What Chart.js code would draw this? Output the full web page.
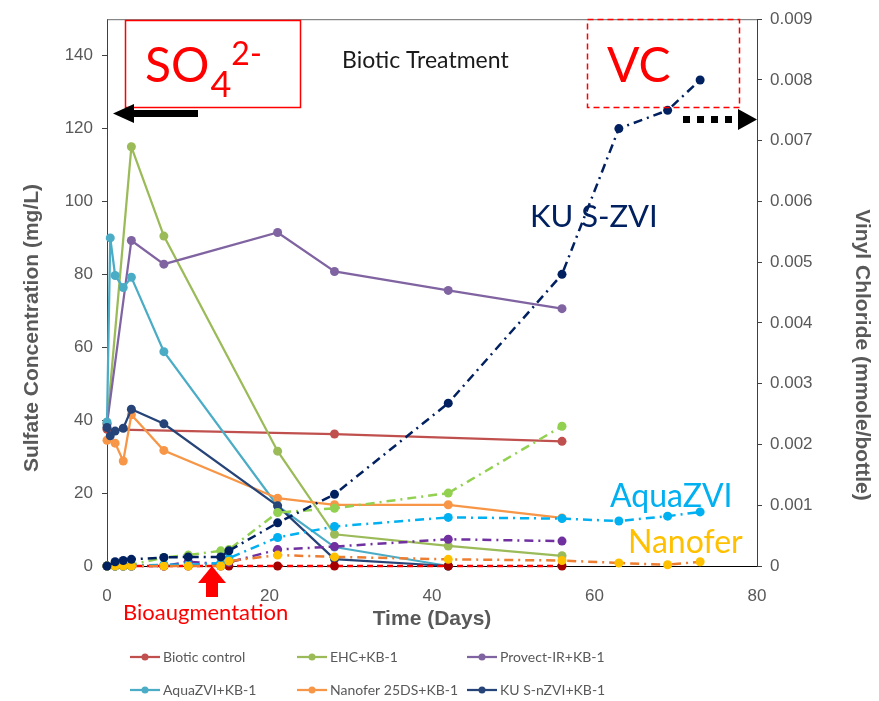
<!DOCTYPE html>
<html>
<head>
<meta charset="utf-8">
<script src="https://cdn.jsdelivr.net/npm/chart.js@4.4.1/dist/chart.umd.min.js"></script>
<style>
  html, body { margin: 0; padding: 0; background: #fff; }
</style>
</head>
<body>
<canvas id="sulfateChart" width="879" height="701"></canvas>
<script>
// Sulfate sampling days (left axis, mg/L)
const sulfateDays = [0, 0.4, 1, 2, 3, 7, 21, 28, 42, 56];
const bioticSO4   = [37.5, null, null, null, null, null, null, 36.2, null, 34.2];
const ehcSO4      = [39, null, null, null, 115, 90.5, 31.5, 8.7, 5.5, 2.8];
const provectSO4  = [39, null, null, null, 89.3, 82.8, 91.5, 80.8, 75.6, 70.6];
const aquaSO4     = [39.5, 90, 79.7, 76.4, 79.2, 58.8, 16.5, 5.2, 0, null];
const nanoferSO4  = [34.5, null, 33.7, 28.8, 41.5, 31.7, 18.6, 16.8, 16.8, 13.2];
const kuSO4       = [38, 35.7, 37, 37.8, 43, 39, 16.5, 1.9, 0, null];

// Vinyl chloride sampling days (right axis, mmole/bottle)
const vcDays     = [0, 1, 2, 3, 7, 10, 14, 15, 21, 28, 42, 56, 63, 69, 73];
const bioticVC   = [0, 0, 0, 0, 0, 0, 0, 0, 0, 0, 0, 0, null, null, null];
const ehcVC      = [0, 0, 0, 0.00002, 0.00014, 0.00018, 0.00025, 0.00027, 0.00088, 0.00095, 0.0012, 0.0023, null, null, null];
const provectVC  = [0, 0, 0, 0, 0, 0.00007, 0.00003, 0.00006, 0.00027, 0.00032, 0.00044, 0.00041, null, null, null];
const aquaVC     = [0, 0, 0, 0, 0.00002, 0.00002, 0.00005, 0.00013, 0.00047, 0.00065, 0.0008, 0.00078, 0.00074, 0.00082, 0.00089];
const nanoferVC  = [0, 0, 0, 0, 0, 0, 0, 0.00008, 0.00018, 0.00015, 0.00011, 0.00009, 0.00005, 0.00002, 0.00007];
const kuVC       = [0, 0.00007, 0.00009, 0.00011, 0.00014, 0.00015, 0.00015, 0.00025, 0.00071, 0.00118, 0.00268, 0.0048, 0.0072, 0.0075, 0.008];

// tick labels
const xTicks = [0, 20, 40, 60, 80];
const so4Ticks = [0, 20, 40, 60, 80, 100, 120, 140];
const vcTicks = [0, 0.001, 0.002, 0.003, 0.004, 0.005, 0.006, 0.007, 0.008, 0.009];

const gray = '#595959';
const pairUp = (days, vals) => days.map((d, i) => ({ x: d, y: vals[i] })).filter(p => p.y !== null);

// later series sit on top (like the spreadsheet); lower order = drawn on top
let so4Order = 30, vcOrder = 10;

function so4Set(label, vals, color) {
  return {
    label: label, data: pairUp(sulfateDays, vals), yAxisID: 'y',
    borderColor: color, backgroundColor: color, borderWidth: 2.25,
    pointRadius: 4.5, pointHoverRadius: 4.5, pointBorderWidth: 0,
    clip: false, order: so4Order--
  };
}
function vcSet(label, vals, lineColor, dotColor, dash) {
  return {
    label: label, data: pairUp(vcDays, vals), yAxisID: 'y1',
    borderColor: lineColor, backgroundColor: dotColor,
    pointBackgroundColor: dotColor, pointBorderColor: dotColor,
    borderWidth: 2.5, borderDash: dash,
    pointRadius: 4.5, pointHoverRadius: 4.5, pointBorderWidth: 0,
    clip: false, order: vcOrder--
  };
}

const dashDot = [9, 5, 2, 5];

// legend drawn in a 3 x 2 grid like the original
const legendGrid = {
  id: 'legendGrid',
  afterDraw(chart) {
    const ctx = chart.ctx;
    const cols = [130, 297, 467], rows = [657, 690];
    ctx.save();
    ctx.font = '14px Lato';
    ctx.textBaseline = 'middle';
    chart.data.datasets.slice(0, 6).forEach((ds, i) => {
      const x = cols[i % 3], y = rows[Math.floor(i / 3)];
      ctx.strokeStyle = ds.borderColor;
      ctx.lineWidth = 2.25;
      ctx.beginPath(); ctx.moveTo(x, y); ctx.lineTo(x + 30, y); ctx.stroke();
      ctx.fillStyle = ds.borderColor;
      ctx.beginPath(); ctx.arc(x + 15, y, 3.5, 0, Math.PI * 2); ctx.fill();
      ctx.fillStyle = gray;
      ctx.fillText(ds.label, x + 33, y);
    });
    ctx.restore();
  }
};

// frame, axis titles and the text boxes / arrows of the figure
const decorations = {
  id: 'decorations',
  afterDraw(chart) {
    const ctx = chart.ctx;
    const a = chart.chartArea;
    ctx.save();

    // top frame line
    ctx.strokeStyle = '#6b6b6b'; ctx.lineWidth = 1;
    ctx.beginPath(); ctx.moveTo(a.left, a.top + 0.5); ctx.lineTo(a.right, a.top + 0.5); ctx.stroke();

    // y axis titles
    ctx.fillStyle = gray;
    ctx.font = 'bold 21px "Liberation Sans"';
    ctx.textAlign = 'center'; ctx.textBaseline = 'middle';
    ctx.save(); ctx.translate(32, 328); ctx.rotate(-Math.PI / 2);
    ctx.fillText('Sulfate Concentration (mg/L)', 0, 0); ctx.restore();
    ctx.save(); ctx.translate(862, 355); ctx.rotate(Math.PI / 2);
    ctx.fillText('Vinyl Chloride (mmole/bottle)', 0, 0); ctx.restore();

    ctx.textAlign = 'left'; ctx.textBaseline = 'alphabetic';

    // SO4 2- box
    ctx.strokeStyle = '#ff0000'; ctx.lineWidth = 1.5;
    ctx.strokeRect(125.5, 20.5, 175, 87);
    ctx.fillStyle = '#ff0000';
    ctx.font = '48px Lato';
    ctx.fillText('SO', 145, 82);
    const w = ctx.measureText('SO').width;
    ctx.font = '36px Lato';
    ctx.fillText('4', 145 + w + 1, 97);
    const w4 = ctx.measureText('4').width;
    ctx.font = '32px Lato';
    ctx.fillText('2-', 145 + w + w4 + 1, 65);

    // VC box
    ctx.setLineDash([6, 4]);
    ctx.strokeRect(587.5, 19.5, 152, 88);
    ctx.setLineDash([]);
    ctx.font = '48px Lato';
    ctx.fillText('VC', 607, 82);

    // Biotic Treatment
    ctx.fillStyle = '#1a1a1a';
    ctx.font = '23px Lato';
    ctx.fillText('Biotic Treatment', 342, 68);

    // black arrow to the left axis
    ctx.fillStyle = '#000';
    ctx.fillRect(132, 110, 66, 7);
    ctx.beginPath(); ctx.moveTo(113, 113.5); ctx.lineTo(134, 104); ctx.lineTo(134, 123); ctx.closePath(); ctx.fill();

    // dotted arrow to the right axis
    [683, 697, 711, 725].forEach(x => ctx.fillRect(x, 116, 7, 7));
    ctx.beginPath(); ctx.moveTo(757, 119.5); ctx.lineTo(738, 109); ctx.lineTo(738, 130); ctx.closePath(); ctx.fill();

    // series labels
    ctx.font = '31px Lato';
    ctx.fillStyle = '#002060'; ctx.fillText('KU S-ZVI', 530, 227);
    ctx.font = '32px Lato';
    ctx.fillStyle = '#00B0F0'; ctx.fillText('AquaZVI', 610, 507);
    ctx.fillStyle = '#FFC000'; ctx.fillText('Nanofer', 628, 553);

    // bioaugmentation marker
    ctx.fillStyle = '#ff0000';
    ctx.beginPath(); ctx.moveTo(212, 566); ctx.lineTo(198, 583); ctx.lineTo(226, 583); ctx.closePath(); ctx.fill();
    ctx.fillRect(206, 582, 12, 15);
    ctx.font = '22px Lato';
    ctx.fillText('Bioaugmentation', 123, 620);

    ctx.restore();
  }
};

new Chart(document.getElementById('sulfateChart'), {
  type: 'line',
  data: {
    datasets: [
      so4Set('Biotic control', bioticSO4, '#C0504D'),
      so4Set('EHC+KB-1', ehcSO4, '#9BBB59'),
      so4Set('Provect-IR+KB-1', provectSO4, '#8064A2'),
      so4Set('AquaZVI+KB-1', aquaSO4, '#4BACC6'),
      so4Set('Nanofer 25DS+KB-1', nanoferSO4, '#F79646'),
      so4Set('KU S-nZVI+KB-1', kuSO4, '#264478'),
      vcSet('Biotic control VC', bioticVC, '#FF0000', '#A50000', [6, 4]),
      vcSet('EHC+KB-1 VC', ehcVC, '#92D050', '#92D050', dashDot),
      vcSet('Provect-IR+KB-1 VC', provectVC, '#7030A0', '#7030A0', dashDot),
      vcSet('AquaZVI+KB-1 VC', aquaVC, '#00B0F0', '#00B0F0', dashDot),
      vcSet('Nanofer 25DS+KB-1 VC', nanoferVC, '#ED7D31', '#FFC000', dashDot),
      vcSet('KU S-nZVI+KB-1 VC', kuVC, '#002060', '#002060', dashDot)
    ]
  },
  options: {
    responsive: false,
    animation: false,
    devicePixelRatio: 1,
    layout: { padding: { top: 15, left: 0, right: 0, bottom: 0 } },
    plugins: { legend: { display: false }, tooltip: { enabled: false } },
    scales: {
      x: {
        type: 'linear', min: 0, max: 80,
        afterBuildTicks: s => { s.ticks = xTicks.map(v => ({ value: v })); },
        afterFit: s => { s.height = 135; },
        ticks: { color: gray, font: { size: 17, family: 'Liberation Sans' }, padding: 12 },
        grid: { display: false },
        border: { color: '#000', width: 1 },
        title: {
          display: true, text: 'Time (Days)', color: gray,
          font: { size: 21, weight: 'bold', family: 'Liberation Sans' },
          padding: { top: 0, bottom: 69 }
        }
      },
      y: {
        position: 'left', min: 0, max: 150,
        afterBuildTicks: s => { s.ticks = so4Ticks.map(v => ({ value: v })); },
        afterFit: s => { s.width = 107; },
        ticks: { color: gray, font: { size: 17, family: 'Liberation Sans' }, padding: 9 },
        grid: { drawOnChartArea: false, tickLength: 5, color: '#404040' },
        border: { color: '#404040', width: 1 }
      },
      y1: {
        position: 'right', min: 0, max: 0.009,
        afterBuildTicks: s => { s.ticks = vcTicks.map(v => ({ value: v })); },
        afterFit: s => { s.width = 122; },
        ticks: {
          color: gray, font: { size: 17, family: 'Liberation Sans' }, padding: 8,
          callback: v => v === 0 ? '0' : v.toFixed(3)
        },
        grid: { drawOnChartArea: false, tickLength: 5, color: '#404040' },
        border: { color: '#404040', width: 1 }
      }
    }
  },
  plugins: [legendGrid, decorations]
});
</script>
</body>
</html>
